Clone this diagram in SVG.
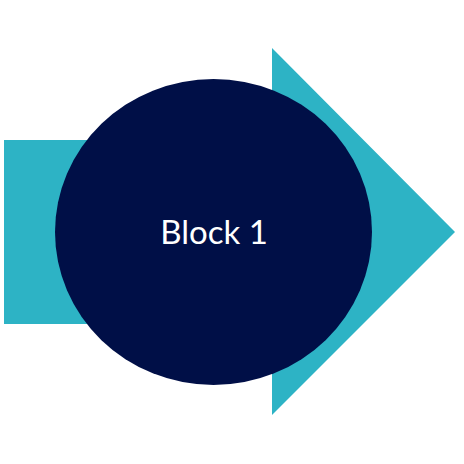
<svg xmlns="http://www.w3.org/2000/svg" width="464" height="464" viewBox="0 0 464 464">
<style>
.arrow{fill:#2DB3C5}
.circ{fill:#000F47}
.lbl{font-family:Lato,"Liberation Sans",sans-serif;font-size:33px;fill:#FFFFFF;text-anchor:middle}
</style>
<rect width="464" height="464" fill="#FFFFFF"/>
<g id="arrow">
<polygon class="arrow" points="4,140 272,140 272,48 455,232 272,415 272,324 4,324"/>
</g>
<g id="block1">
<ellipse class="circ" cx="213.5" cy="232" rx="158.5" ry="153"/>
<text class="lbl" x="214" y="244">Block 1</text>
</g>
</svg>
